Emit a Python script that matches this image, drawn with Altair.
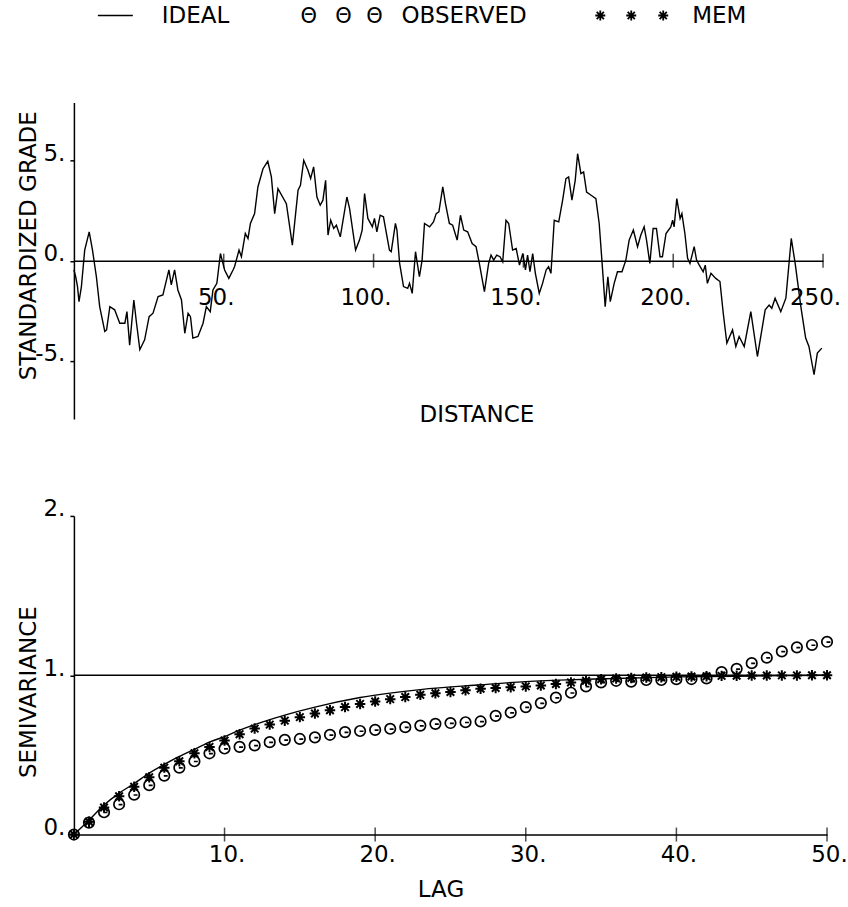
import altair as alt
import pandas as pd

FONT = "DejaVu Sans"
FS = 23

# ---------------- top panel: standardized grade along distance ----------------
distance = [0.0, 0.6, 1.2, 1.7, 2.5, 3.6, 5.1, 6.2, 7.5, 8.6, 10.3, 10.9, 12.0, 13.6, 15.3,
            17.0, 17.7, 18.6, 20.0, 20.9, 22.0, 23.6, 25.1, 26.4, 28.1, 29.7, 31.7, 32.5,
            33.6, 34.7, 35.9, 37.0, 38.1, 38.9, 39.7, 41.4, 43.1, 44.2, 45.5, 46.4, 47.7,
            48.9, 50.3, 51.7, 53.1, 53.6, 55.1, 55.9, 57.2, 58.1, 58.9, 60.3, 61.4, 63.1,
            64.7, 65.9, 67.0, 68.1, 70.9, 72.9, 74.8, 75.6, 76.7, 78.1, 79.0, 80.0, 81.1,
            82.2, 83.1, 84.0, 84.8, 85.7, 86.7, 87.6, 88.9, 91.1, 92.0, 94.0, 95.3, 96.2,
            97.0, 98.1, 99.6, 100.3, 101.1, 102.2, 103.3, 105.3, 105.9, 107.3, 107.8, 108.7,
            110.0, 111.4, 112.0, 112.9, 114.0, 115.3, 116.2, 117.0, 118.7, 120.0, 120.9,
            121.8, 123.1, 124.0, 125.3, 126.4, 127.9, 129.0, 130.1, 131.4, 132.9, 134.2,
            135.3, 137.0, 138.4, 139.2, 140.1, 141.1, 142.2, 143.1, 144.2, 145.1, 146.4,
            147.6, 148.7, 149.8, 150.7, 151.4, 152.2, 153.1, 154.0, 155.3, 156.4, 157.6,
            158.4, 159.2, 160.3, 161.8, 163.1, 164.2, 165.1, 166.2, 167.3, 168.1, 169.2,
            170.1, 171.1, 172.6, 174.2, 175.3, 176.2, 177.3, 178.2, 179.0, 180.3, 181.4,
            182.9, 184.2, 185.3, 186.7, 188.1, 189.2, 190.3, 191.1, 192.2, 193.3, 194.4,
            195.6, 196.4, 197.6, 199.2, 199.8, 200.3, 201.2, 202.3, 202.9, 203.9, 204.8,
            205.6, 207.0, 207.8, 208.7, 210.0, 210.7, 211.4, 212.6, 214.2, 215.6, 216.7,
            217.9, 219.8, 220.9, 222.0, 223.7, 225.9, 228.1, 230.7, 232.0, 232.9, 234.0,
            235.9, 237.6, 239.4, 240.7, 242.6, 244.2, 245.3, 247.0, 248.1, 249.6]
grade = [-0.46, -0.80, -1.29, -2.04, -1.29, 0.53, 1.44, 0.53, -0.80, -2.29, -3.53, -3.45,
         -2.29, -2.45, -3.12, -3.12, -2.54, -4.21, -1.96, -3.12, -4.44, -3.95, -2.79, -2.62,
         -1.79, -1.71, -0.46, -1.21, -0.46, -1.46, -1.96, -3.62, -2.62, -2.79, -3.86, -3.78,
         -3.12, -2.29, -2.54, -1.46, -1.13, 0.36, -0.46, -0.88, -0.46, -0.30, 0.53, 0.20,
         1.36, 1.11, 1.86, 2.35, 3.68, 4.59, 4.96, 4.18, 2.35, 3.60, 2.85, 0.78, 3.52, 3.76,
         5.01, 4.51, 4.10, 4.68, 3.18, 2.77, 3.02, 4.01, 1.28, 2.02, 1.61, 1.77, 1.19, 3.18,
         2.60, 0.53, 1.03, 1.53, 3.35, 2.11, 1.69, 2.11, 1.44, 2.27, 2.19, 0.53, 0.45, 1.86,
         1.53, -0.13, -1.29, -1.38, -1.13, -1.63, 0.45, -0.80, 0.03, 1.86, 1.69, 1.94, 2.35,
         2.44, 3.68, 2.85, 1.86, 1.77, 1.03, 2.27, 1.53, 1.44, 0.86, 0.70, -0.13, -1.54,
         -0.13, 0.28, 0.03, 0.28, 0.20, -0.05, 2.02, 1.86, 0.53, 0.61, -0.22, 0.36, -0.46,
         0.28, -0.55, 0.36, -0.63, -1.63, -1.13, -0.46, -0.30, -0.63, 2.02, 1.94, 3.02, 4.10,
         4.18, 3.02, 4.01, 5.34, 4.35, 4.43, 3.43, 3.27, 3.10, 1.86, 0.03, -2.29, -0.80,
         -2.04, -1.13, -0.55, -0.55, 0.03, 1.03, 1.53, 0.70, 1.28, 1.69, 1.03, -0.13, 1.61,
         1.61, 0.20, 0.20, 1.36, 1.69, 2.02, 1.69, 3.10, 2.11, 2.35, 1.36, 0.12, -0.13, 0.70,
         0.03, -0.22, -0.55, -0.22, -1.13, -0.63, -0.88, -1.04, -2.62, -4.11, -3.45, -4.28,
         -3.78, -4.28, -2.54, -4.78, -2.45, -2.21, -2.37, -1.87, -2.54, -1.87, 1.11, -0.13,
         -2.29, -3.86, -4.28, -5.69, -4.61, -4.36]
distance_ticks = [50, 100, 150, 200, 250]
grade_ticks = [-5, 0, 5]

# ---------------- bottom panel: semivariograms ----------------
lags = list(range(51))
observed = [0.0, 0.075, 0.14, 0.19, 0.25, 0.31, 0.37, 0.42, 0.46, 0.51, 0.54, 0.55, 0.56,
            0.58, 0.594, 0.60, 0.61, 0.626, 0.643, 0.65, 0.657, 0.664, 0.674, 0.684, 0.695,
            0.70, 0.705, 0.71, 0.745, 0.766, 0.80, 0.825, 0.86, 0.89, 0.93, 0.955, 0.965,
            0.96, 0.97, 0.97, 0.975, 0.976, 0.98, 1.02, 1.04, 1.076, 1.11, 1.15, 1.175,
            1.19, 1.21]
mem = [0.0, 0.08, 0.17, 0.24, 0.30, 0.36, 0.42, 0.46, 0.51, 0.55, 0.59, 0.63, 0.665,
       0.69, 0.715, 0.737, 0.76, 0.78, 0.80, 0.82, 0.835, 0.85, 0.863, 0.877, 0.887, 0.895,
       0.905, 0.915, 0.92, 0.925, 0.93, 0.936, 0.945, 0.955, 0.965, 0.975, 0.98, 0.983,
       0.986, 0.988, 0.99, 0.992, 0.994, 0.996, 0.997, 0.998, 0.998, 0.999, 0.999, 1.0, 1.0]
ideal_lag = [0, 1, 2, 3, 4, 5, 6, 7, 8, 9, 10, 11, 12, 14, 16, 19, 23, 27, 30, 34, 40, 45, 50]
ideal_val = [0.0, 0.09, 0.185, 0.26, 0.32, 0.385, 0.44, 0.49, 0.535, 0.58, 0.615, 0.655,
             0.69, 0.75, 0.80, 0.86, 0.91, 0.94, 0.96, 0.975, 0.99, 0.995, 1.0]
sill = [1.0]
lag_ticks = [10, 20, 30, 40, 50]
semi_ticks = [0, 1, 2]

STAR = "M-1,0L1,0M0,-1L0,1M-0.72,-0.72L0.72,0.72M-0.72,0.72L0.72,-0.72"
THETA = "M1,0A1,1,0,1,1,-1,0A1,1,0,1,1,1,0Z M-0.1,0.05L0.65,0.05"

W1, H1 = 750, 317
W2, H2 = 754, 319
LEFT, TOP = 74, 102

one = alt.Data(values=[{}])

# ---- top panel ----
xs_top = alt.Scale(domain=[0, 250], nice=False, zero=False)
ys_top = alt.Scale(domain=[-7.9, 7.9], nice=False, zero=False)

grade_df = pd.DataFrame({"d": distance, "g": grade})
top_line = alt.Chart(grade_df).mark_line(color="black", strokeWidth=1.4).encode(
    x=alt.X("d:Q", scale=xs_top, axis=alt.Axis(
        values=distance_ticks, labelExpr="datum.value + '.'", offset=-H1 / 2,
        ticks=False, tickSize=0, labelPadding=44, labelBaseline="alphabetic",
        labelFlush=False, labelOffset=-8, title="DISTANCE", titleX=403, titleY=161,
        titleAlign="center", titleBaseline="alphabetic")),
    y=alt.Y("g:Q", scale=ys_top, axis=alt.Axis(
        values=grade_ticks, labelExpr="datum.value + '.'", labelAlign="right",
        labelBaseline="alphabetic", labelFlush=False, tickSize=4, labelPadding=5,
        title="STANDARDIZED GRADE", titleX=-38, titleY=143, titleAlign="center",
        titleBaseline="alphabetic")),
)
top_ticks = alt.Chart(pd.DataFrame({"d": distance_ticks})).mark_tick(
    orient="vertical", size=14, thickness=1.5, color="black").encode(
    x=alt.X("d:Q", scale=xs_top), y=alt.datum(0))

# invisible anchor fixing the top-left corner of the page
anchor = alt.Chart(one).mark_rule(opacity=0, strokeWidth=0.01).encode(
    x=alt.value(-LEFT), x2=alt.value(-LEFT + 1), y=alt.value(-TOP))

leg_y_text = -80
leg_y_sym = -87
legend_layers = [
    alt.Chart(one).mark_rule(color="black", strokeWidth=1.5).encode(
        x=alt.value(24), x2=alt.value(59), y=alt.value(leg_y_sym)),
    alt.Chart(one).mark_text(text="IDEAL", align="left", baseline="alphabetic",
                             font=FONT, fontSize=FS, color="black").encode(
        x=alt.value(88), y=alt.value(leg_y_text)),
    alt.Chart(one).mark_text(text="OBSERVED", align="left", baseline="alphabetic",
                             font=FONT, fontSize=FS, color="black").encode(
        x=alt.value(328), y=alt.value(leg_y_text)),
    alt.Chart(one).mark_text(text="MEM", align="left", baseline="alphabetic",
                             font=FONT, fontSize=FS, color="black").encode(
        x=alt.value(619), y=alt.value(leg_y_text)),
]
for px in (235, 270, 301):
    legend_layers.append(
        alt.Chart(one).mark_text(text="Θ", align="center", baseline="alphabetic",
                                 font=FONT, fontSize=FS - 2, color="black").encode(
            x=alt.value(px), y=alt.value(leg_y_text)))
for px in (527, 558, 590):
    legend_layers.append(
        alt.Chart(one).mark_point(shape=STAR, size=100, filled=False, color="black",
                                  strokeWidth=1.8, opacity=1).encode(
            x=alt.value(px), y=alt.value(leg_y_sym)))

top = alt.layer(top_line, top_ticks, anchor, *legend_layers).properties(width=W1, height=H1)

# ---- bottom panel ----
xs_bot = alt.Scale(domain=[0, 50], nice=False, zero=False)
ys_bot = alt.Scale(domain=[0, 2], nice=False, zero=False)

x_axis_bot = alt.Axis(values=lag_ticks, labelExpr="datum.value + '.'", ticks=False,
                      tickSize=0, labelPadding=27, labelBaseline="alphabetic",
                      labelFlush=False, labelOffset=2, title="LAG", titleX=367, titleY=62,
                      titleAlign="center", titleBaseline="alphabetic")
y_axis_bot = alt.Axis(values=semi_ticks, labelExpr="datum.value + '.'", labelAlign="right",
                      labelBaseline="alphabetic", labelFlush=False, tickSize=4,
                      labelPadding=5, title="SEMIVARIANCE", titleX=-38, titleY=176,
                      titleAlign="center", titleBaseline="alphabetic")

ideal_df = pd.DataFrame({"lag": ideal_lag, "v": ideal_val})
pts_df = pd.DataFrame({"lag": lags, "obs": observed, "mem": mem})

ideal_line = alt.Chart(ideal_df).mark_line(color="black", strokeWidth=1.4,
                                           interpolate="monotone").encode(
    x=alt.X("lag:Q", scale=xs_bot, axis=x_axis_bot),
    y=alt.Y("v:Q", scale=ys_bot, axis=y_axis_bot))
sill_rule = alt.Chart(pd.DataFrame({"v": sill})).mark_rule(color="black", strokeWidth=1.5).encode(
    y=alt.Y("v:Q", scale=ys_bot), x=alt.datum(0), x2=alt.datum(50))
obs_pts = alt.Chart(pts_df).mark_point(shape=THETA, size=110, filled=False, color="black",
                                        strokeWidth=1.7, opacity=1).encode(
    x=alt.X("lag:Q", scale=xs_bot), y=alt.Y("obs:Q", scale=ys_bot))
mem_pts = alt.Chart(pts_df).mark_point(shape=STAR, size=110, filled=False, color="black",
                                        strokeWidth=2.0, opacity=1).encode(
    x=alt.X("lag:Q", scale=xs_bot), y=alt.Y("mem:Q", scale=ys_bot))
bot_ticks = alt.Chart(pd.DataFrame({"lag": lag_ticks})).mark_tick(
    orient="vertical", size=14, thickness=1.5, color="black").encode(
    x=alt.X("lag:Q", scale=xs_bot), y=alt.datum(0))

bottom = alt.layer(ideal_line, sill_rule, obs_pts, mem_pts, bot_ticks).properties(
    width=W2, height=H2)

chart = alt.vconcat(top, bottom, spacing=97, bounds="flush").properties(
    padding=0,
    background="white",
).configure_view(stroke=None).configure_axis(
    labelFont=FONT, labelFontSize=FS, labelColor="black",
    titleFont=FONT, titleFontSize=FS, titleFontWeight="normal", titleColor="black",
    domainColor="black", domainWidth=1.5, tickColor="black", tickWidth=1.5, grid=False,
)

chart.save("out.html", embed_options={"renderer": "svg", "actions": False})
